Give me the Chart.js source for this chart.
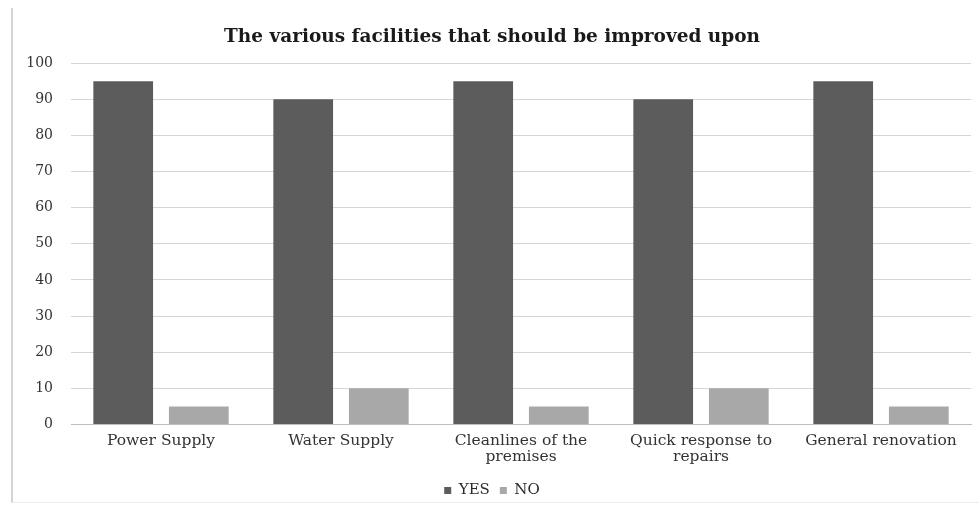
<!DOCTYPE html>
<html>
<head>
<meta charset="utf-8">
<script src="https://cdn.jsdelivr.net/npm/chart.js@4"></script>
<style>
  html, body { margin: 0; padding: 0; background: #fff; overflow: hidden; }
  .frame {
    position: absolute; left: 11px; top: 8px; width: 966px; height: 494px;
    border-left: 2px solid #d4d4d4; border-bottom: 1px solid #ececec;
  }
  #facilities { position: absolute; left: 13px; top: 8px; display: block; }
</style>
</head>
<body>
<div class="frame"></div>
<canvas id="facilities" width="964" height="500"></canvas>
<script>
const categories = [
  "Power Supply",
  "Water Supply",
  ["Cleanlines of the", "premises"],
  ["Quick response to", "repairs"],
  "General renovation"
];
const yesValues = [95, 90, 95, 90, 95];
const noValues = [5, 10, 5, 10, 5];
const yTicks = [0, 10, 20, 30, 40, 50, 60, 70, 80, 90, 100];

const serif = "'DejaVu Serif', 'Liberation Serif', serif";

new Chart(document.getElementById("facilities"), {
  type: "bar",
  data: {
    labels: categories,
    datasets: [
      { label: "YES", data: yesValues, backgroundColor: "#5c5c5c" },
      { label: "NO", data: noValues, backgroundColor: "#a8a8a8" }
    ]
  },
  options: {
    responsive: false,
    animation: false,
    layout: { padding: { left: 0, right: 6, top: 3, bottom: 0 } },
    datasets: { bar: { categoryPercentage: 0.84, barPercentage: 0.79 } },
    plugins: {
      title: {
        display: true,
        text: "The various facilities that should be improved upon",
        color: "#1a1a1a",
        font: { family: serif, size: 18.5, weight: "bold" },
        padding: { top: 15, bottom: 15 }
      },
      legend: {
        position: "bottom",
        labels: {
          color: "#2a2a2a",
          font: { family: serif, size: 15 },
          boxWidth: 7, boxHeight: 7, padding: 10
        }
      },
      tooltip: { enabled: false }
    },
    scales: {
      x: {
        grid: { display: false, drawTicks: false },
        border: { color: "#bdbdbd", width: 1 },
        ticks: { color: "#333", font: { family: serif, size: 15.5, lineHeight: 1.05 }, padding: 8, maxRotation: 0 }
      },
      y: {
        min: 0, max: 100,
        afterBuildTicks: axis => { axis.ticks = yTicks.map(v => ({ value: v })); },
        afterFit: axis => { axis.width = 58; },
        grid: { color: "#d6d6d6", drawTicks: false },
        border: { display: false },
        ticks: { color: "#333", font: { family: serif, size: 14 }, padding: 18 }
      }
    }
  }
});
</script>
</body>
</html>
